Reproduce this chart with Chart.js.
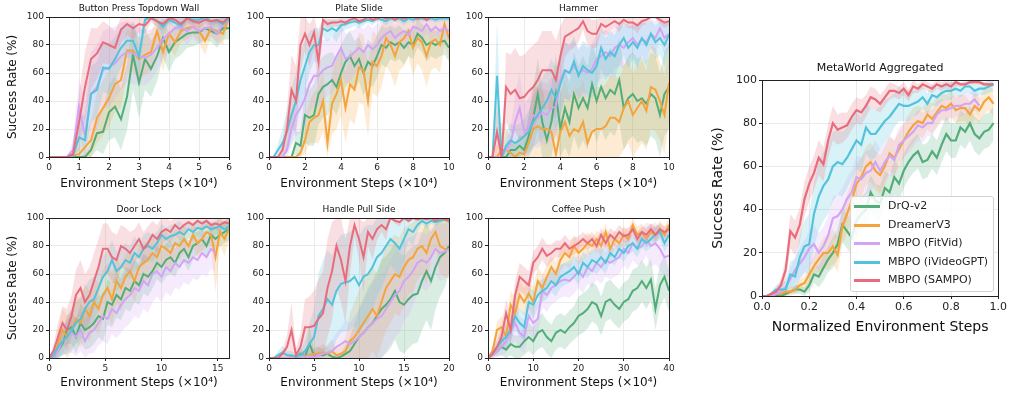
<!DOCTYPE html>
<html>
<head>
<meta charset="utf-8">
<script src="https://cdn.jsdelivr.net/npm/chart.js@4.4.1/dist/chart.umd.min.js"></script>
<style>
  body { margin: 0; background: #fff; }
  #wrap { position: relative; width: 1010px; height: 394px; overflow: hidden; }
  #wrap canvas { position: absolute; }
  #legend { position: absolute; left: 850px; top: 196px; width: 142px; height: 94px;
            border: 1px solid #d2d2d2; border-radius: 3px; background: rgba(255,255,255,0.85);
            font: 11px "DejaVu Sans", sans-serif; color: #222; }
  #legend .row { position: absolute; left: 0; height: 16px; line-height: 16px; white-space: nowrap; }
  #legend .sw { position: absolute; left: 3px; top: 7px; width: 26px; height: 3px; }
  #legend .tx { position: absolute; left: 37px; top: 0; }
</style>
</head>
<body>
<div id="wrap"><div id="legend"></div></div>
<script>
// series order: DrQ-v2, DreamerV3, MBPO (FitVid), MBPO (iVideoGPT), MBPO (SAMPO)
const seriesNames = ['DrQ-v2', 'DreamerV3', 'MBPO (FitVid)', 'MBPO (iVideoGPT)', 'MBPO (SAMPO)'];
const seriesColors = ['#52ad79', '#f5a33c', '#d2a4f6', '#53c3dc', '#e86c7c'];
const yTicks = [0, 20, 40, 60, 80, 100];

// --- Button Press Topdown Wall (x: 0..6, every 0.2) ---
const buttonMean = [
  [0,0,0,0,0,0,0,5,17,18,32,36,27,43,73,53,70,63,72,85,75,82,85,88,89,89,92,90,88,92,92],
  [0,0,0,0,1,2,7,12,28,35,42,52,55,76,76,70,73,75,90,75,88,82,90,92,93,90,83,92,90,88,100],
  [0,0,0,0,5,36,15,45,50,62,64,67,72,75,74,72,71,73,78,84,88,92,93,90,93,90,92,93,88,95,98],
  [0,0,0,0,1,14,12,45,48,64,63,70,78,83,83,72,98,100,97,93,98,96,94,99,98,98,100,97,97,95,99],
  [0,0,0,0,2,25,50,70,74,82,80,78,91,95,92,95,94,99,97,95,99,98,95,99,97,96,98,97,98,96,100]
];
const buttonSpread = [
  [0,0,0,0,0,0,2,6,12,16,20,22,22,24,25,25,22,20,18,14,14,12,12,10,10,8,8,8,10,8,8],
  [0,0,0,0,2,5,10,14,18,20,20,20,20,15,15,15,14,14,10,14,10,10,8,8,6,8,10,6,8,8,3],
  [0,0,0,0,8,20,25,30,30,28,28,26,24,22,22,20,20,18,16,14,12,10,8,10,8,10,8,6,8,5,3],
  [0,0,0,0,3,15,18,20,20,18,18,16,14,12,12,14,4,2,4,6,3,4,5,3,3,3,2,4,4,5,2],
  [0,0,0,0,3,20,25,22,18,15,14,12,10,8,8,6,6,3,4,5,3,3,5,3,4,4,3,3,3,4,2]
];

// --- Plate Slide (x: 0..10, every 0.25) ---
const plateMean = [
  [0,0,0,0,0,0,10,8,30,28,30,45,50,52,55,50,60,68,72,65,70,60,68,65,72,80,78,82,80,82,78,82,80,88,85,80,82,80,82,83,78],
  [0,0,0,0,0,0,0,3,12,25,28,30,40,10,38,45,55,35,52,48,64,62,40,68,65,72,85,80,72,82,85,90,78,85,82,72,82,84,80,95,85],
  [0,0,0,0,5,20,30,35,42,52,58,58,62,64,65,72,78,70,72,75,78,75,80,77,80,85,88,90,85,88,90,87,93,92,90,95,90,93,90,92,90],
  [0,0,5,10,18,30,40,55,65,75,80,80,92,90,92,90,94,95,96,97,96,97,98,97,99,98,97,99,98,99,97,99,98,99,99,98,99,98,99,99,99],
  [0,0,0,5,20,48,40,80,88,80,89,68,98,95,96,96,97,96,98,99,97,98,100,98,99,100,99,100,98,100,99,100,100,99,100,98,100,100,100,100,100]
];
const plateSpread = [
  [0,0,0,0,0,0,8,10,20,20,22,22,22,22,20,20,20,18,18,18,16,16,16,15,15,14,14,12,12,12,12,10,10,10,10,12,10,10,10,10,10],
  [0,0,0,0,0,0,0,3,10,15,18,20,22,15,22,25,25,25,25,25,25,25,25,22,22,22,20,20,22,20,20,18,20,18,20,22,20,20,20,15,15],
  [0,0,0,0,5,12,15,18,20,20,22,22,22,20,20,20,18,18,18,16,16,16,15,15,15,12,12,10,12,10,10,10,8,8,8,6,8,6,8,6,8],
  [0,0,5,10,15,20,20,20,18,15,12,12,6,8,6,8,5,4,4,3,4,3,2,3,2,2,3,2,2,2,3,2,2,2,2,2,2,2,2,2,2],
  [0,0,0,5,15,25,25,20,12,15,12,20,3,4,3,3,3,3,2,2,3,2,1,2,2,1,2,1,2,1,2,1,1,2,1,2,1,1,1,1,1]
];

// --- Hammer (x: 0..10, every 0.25) ---
const hammerMean = [
  [0,0,0,0,0,5,5,8,5,15,28,45,25,12,25,45,20,35,25,45,35,42,35,52,40,50,42,48,45,55,35,42,45,40,42,38,45,42,30,45,50],
  [0,0,0,5,5,3,0,3,2,10,20,22,20,20,18,2,18,25,15,20,18,25,10,18,20,20,22,28,28,25,35,40,30,35,40,33,50,48,40,30,53],
  [0,0,0,0,5,10,25,35,18,22,30,28,32,30,35,36,55,62,60,65,60,62,60,63,70,72,75,72,78,80,78,82,85,80,84,82,88,85,92,85,88],
  [0,0,58,0,8,12,10,12,15,18,25,30,35,40,48,42,52,62,60,68,58,65,62,60,65,78,70,75,72,80,85,78,82,78,85,80,88,82,85,80,87],
  [0,0,18,0,50,45,48,42,43,47,50,55,62,62,62,55,72,86,88,90,92,97,90,88,88,95,93,95,97,95,98,96,96,94,97,98,100,100,98,96,97]
];
const hammerSpread = [
  [0,0,0,0,0,5,5,8,8,15,22,25,25,20,25,28,25,28,28,30,30,30,30,30,30,30,30,30,30,30,30,30,30,30,30,30,30,30,30,30,30],
  [0,0,10,20,15,12,8,12,10,20,28,28,28,28,28,20,28,30,28,30,30,30,28,30,30,30,30,30,30,30,30,30,30,30,30,28,30,30,28,28,28],
  [0,0,0,0,5,10,20,25,20,20,22,22,22,22,22,22,22,20,20,18,18,18,18,18,18,16,16,16,15,15,15,14,12,15,12,14,10,12,8,12,10],
  [0,0,40,5,10,12,12,12,12,15,18,20,22,22,22,22,22,20,20,18,18,18,18,18,18,15,15,15,15,15,12,15,12,15,12,15,10,12,12,15,10],
  [0,0,20,5,25,28,30,30,30,30,30,28,28,28,28,28,22,15,12,12,10,6,10,10,10,6,6,6,4,6,3,4,4,6,3,3,1,1,3,4,3]
];

// --- Door Lock (x: 0..16, every 0.4) ---
const doorMean = [
  [0,0,5,10,20,22,15,25,20,22,25,30,28,40,38,45,42,50,48,55,52,60,58,62,68,65,70,72,68,75,78,72,80,82,85,80,88,85,88,90,92],
  [0,0,10,20,15,20,28,25,35,30,40,35,45,50,42,55,50,58,62,55,65,68,70,75,72,80,78,75,82,80,85,80,88,82,85,90,88,72,90,85,92],
  [0,0,5,12,15,18,15,20,12,18,20,25,30,28,35,32,38,42,45,50,48,55,52,60,62,58,65,62,68,65,70,68,72,70,75,72,78,75,null,null,null],
  [0,2,8,12,15,20,25,28,35,40,42,50,58,62,70,62,65,70,68,75,72,78,80,78,82,88,85,87,88,90,88,92,90,93,92,94,92,93,94,92,94],
  [0,5,15,25,20,30,45,50,40,45,55,65,78,78,72,70,80,78,75,80,85,78,82,88,85,90,92,90,95,92,95,97,95,98,96,98,95,96,95,97,96]
];
const doorSpread = [
  [0,0,5,8,10,12,12,14,14,15,15,15,16,16,16,16,15,15,15,15,14,14,14,12,12,12,12,12,10,10,10,10,10,8,8,8,8,8,8,8,8],
  [0,0,10,15,15,16,16,18,18,18,18,18,18,18,18,16,16,16,15,15,15,14,14,12,12,12,12,12,10,10,10,10,8,10,10,8,8,25,10,12,8],
  [0,0,5,10,12,14,14,15,15,15,16,16,18,18,18,18,20,20,20,20,20,20,20,20,18,18,18,18,18,16,16,16,15,15,15,14,14,14,null,null,null],
  [0,3,8,10,12,14,15,15,16,16,16,15,15,15,14,14,14,12,12,12,10,10,10,10,8,8,8,8,8,8,6,6,6,6,6,5,5,5,5,5,5],
  [0,5,10,12,15,15,18,20,20,20,20,20,18,18,18,18,15,15,15,12,12,12,12,10,10,10,8,8,8,8,6,5,6,4,5,3,5,4,5,3,4]
];

// --- Handle Pull Side (x: 0..20, every 0.5) ---
const handleMean = [
  [0,0,0,0,0,0,0,3,1,10,2,3,2,3,1,0,1,3,5,10,15,18,22,25,30,35,38,42,48,40,38,42,45,46,55,62,55,65,72,75,80],
  [0,0,0,0,0,1,1,2,1,2,3,3,4,3,5,2,3,5,12,15,20,25,30,35,30,40,50,55,60,58,65,70,72,78,80,75,85,90,80,78,77],
  [0,0,0,0,0,0,1,1,1,1,1,2,3,4,5,8,10,12,10,12,15,18,22,25,28,30,35,40,45,48,55,58,62,68,70,68,72,78,75,76,78],
  [0,0,2,4,2,2,1,2,5,10,15,30,35,42,38,48,53,54,55,58,52,58,60,65,72,75,80,85,82,78,85,92,90,95,98,96,98,97,98,99,98],
  [0,0,0,3,8,20,2,8,22,22,23,28,32,50,62,80,70,55,80,95,85,72,90,85,92,95,92,100,98,97,100,98,100,99,100,99,100,98,100,99,98]
];
const handleSpread = [
  [0,0,0,0,0,0,0,5,2,12,4,5,4,5,3,2,3,6,10,15,20,25,28,30,32,35,35,35,35,35,35,35,35,35,35,35,35,30,28,25,20],
  [0,0,0,0,0,1,1,3,2,3,5,5,6,5,8,5,6,10,20,25,28,30,30,30,30,30,30,30,28,28,28,25,25,22,20,22,15,10,20,20,20],
  [0,0,0,0,0,0,1,2,2,2,2,4,5,6,8,10,12,15,15,18,20,22,25,28,30,30,30,30,30,30,28,28,25,22,20,20,20,18,20,20,18],
  [0,0,3,5,3,3,2,3,8,15,20,30,35,35,35,35,35,35,35,35,35,35,35,30,28,25,22,18,20,20,15,8,10,5,2,4,2,3,2,1,2],
  [0,0,0,3,8,20,5,10,20,22,25,28,30,35,35,30,30,30,20,8,15,25,10,15,8,5,8,1,2,3,1,2,1,1,1,1,1,2,1,1,2]
];

// --- Coffee Push (x: 0..40, every 1) ---
const coffeeMean = [
  [0,3,5,8,6,10,8,8,12,15,12,18,20,15,12,18,20,18,22,25,30,32,35,40,38,30,40,42,38,35,40,42,48,50,55,50,56,35,52,58,48],
  [0,5,20,22,15,38,32,45,40,46,40,55,50,58,65,60,70,75,72,80,75,78,82,80,85,80,90,78,85,82,88,85,95,88,90,85,90,88,92,88,95],
  [0,2,5,8,12,18,25,18,15,30,25,28,48,45,50,52,55,56,55,58,62,58,65,62,68,65,70,68,70,72,78,75,82,78,80,85,80,82,78,72,73],
  [0,3,8,12,15,20,30,25,22,40,38,45,48,50,55,52,58,60,62,65,60,68,65,70,68,72,68,75,72,78,75,80,82,78,85,82,85,88,90,82,88],
  [0,3,8,15,32,20,45,58,55,52,68,72,78,73,75,78,78,82,78,80,82,85,82,85,80,88,82,88,85,90,87,88,92,85,90,88,92,88,92,90,92]
];
const coffeeSpread = [
  [0,2,4,6,6,8,8,8,10,10,10,12,12,12,12,12,12,12,12,12,14,14,14,14,14,14,14,14,14,14,14,14,15,15,15,15,15,15,15,15,15],
  [0,4,6,8,8,10,10,10,10,10,10,10,10,8,8,8,8,8,8,8,8,8,8,6,6,8,6,8,6,6,6,6,5,6,6,6,6,6,6,6,5],
  [0,2,4,6,8,10,12,12,12,12,12,12,12,12,12,12,12,12,12,12,12,12,12,12,12,12,12,12,12,12,12,12,12,12,12,12,15,15,15,15,15],
  [0,2,5,6,8,8,10,10,10,10,10,10,8,8,8,8,8,8,8,8,8,8,8,8,8,8,8,6,6,6,6,6,6,6,6,6,6,6,5,6,6],
  [0,3,5,8,10,10,10,10,10,10,8,8,8,8,6,6,6,6,6,6,5,5,5,5,5,5,5,5,5,5,5,5,4,5,4,5,4,5,4,4,4]
];

// --- MetaWorld Aggregated (x: 0..0.98, every 0.02) ---
const aggMean = [
  [0,0,0,0,0,1,2,3,3,2,5,10,9,13,17,20,24,33,30,27,35,38,40,48,44,43,50,48,55,52,58,62,65,67,62,63,67,64,70,75,72,72,78,76,80,75,73,76,77,80],
  [0,0,0,1,1,2,2,3,5,6,10,14,17,20,20,23,19,32,38,44,52,55,60,62,58,56,60,66,64,68,72,76,79,81,80,84,82,85,88,87,89,86,87,87,84,88,86,90,92,89],
  [0,0,0,1,2,4,8,12,15,18,22,24,20,23,28,36,37,40,45,48,55,54,57,58,62,58,62,65,63,70,72,74,76,79,78,80,80,84,86,86,87,88,88,89,89,91,88,null,null,null],
  [0,0,1,3,3,3,10,9,18,23,24,38,46,51,54,60,62,61,64,68,72,70,78,75,75,78,81,83,86,89,88,88,89,90,92,89,93,92,94,95,95,96,95,97,97,95,96,96,97,98],
  [0,0,1,2,5,12,30,27,33,45,52,57,64,61,72,80,77,78,79,83,86,85,88,92,91,89,92,95,95,94,96,93,97,96,98,97,96,98,97,98,97,99,98,98,99,99,99,98,98,98]
];
const aggSpread = [
  [0,0,0,0,0,1,1,2,2,2,3,4,5,6,6,7,7,8,8,8,8,8,8,8,8,8,8,8,8,8,8,8,8,8,8,8,8,8,8,8,8,8,8,8,8,8,8,8,8,8],
  [0,0,0,1,1,2,2,2,3,3,4,5,6,7,8,8,8,8,9,9,9,9,9,9,9,9,9,8,8,8,8,8,8,7,7,7,7,7,6,6,6,6,6,6,6,6,6,6,6,6],
  [0,0,0,1,2,3,5,6,7,8,8,9,9,9,9,10,10,10,10,10,10,10,10,10,10,10,9,9,9,8,8,8,7,7,7,6,6,6,5,5,5,5,5,5,5,5,5,null,null,null],
  [0,0,1,2,3,4,6,8,10,12,14,15,16,16,16,16,15,15,14,14,13,13,12,12,11,10,10,9,8,8,7,7,6,6,5,5,5,4,4,4,4,3,3,3,3,3,3,3,3,3],
  [0,0,1,2,3,5,8,8,8,8,8,8,8,8,8,8,7,7,6,6,6,6,5,5,5,4,4,4,3,3,3,3,3,2,2,2,2,2,2,2,2,2,1,1,1,1,1,1,1,1]
];

const stepsTitle = 'Environment Steps (\u00d710\u2074)';
const panels = [
  { title: 'Button Press Topdown Wall', mean: buttonMean, spread: buttonSpread, step: 0.2, xMax: 6, xTick: 1,
    area: [49, 17, 229, 157], yW: 49, xH: 38, yTitle: true },
  { title: 'Plate Slide', mean: plateMean, spread: plateSpread, step: 0.25, xMax: 10, xTick: 2,
    area: [269, 17, 449, 157], yW: 35, xH: 38 },
  { title: 'Hammer', mean: hammerMean, spread: hammerSpread, step: 0.25, xMax: 10, xTick: 2,
    area: [488, 17, 669, 157], yW: 35, xH: 38 },
  { title: 'Door Lock', mean: doorMean, spread: doorSpread, step: 0.4, xMax: 16, xTick: 5,
    area: [49, 218, 229, 358], yW: 49, xH: 36, yTitle: true },
  { title: 'Handle Pull Side', mean: handleMean, spread: handleSpread, step: 0.5, xMax: 20, xTick: 5,
    area: [269, 218, 449, 358], yW: 35, xH: 36 },
  { title: 'Coffee Push', mean: coffeeMean, spread: coffeeSpread, step: 1, xMax: 40, xTick: 10,
    area: [488, 218, 669, 358], yW: 35, xH: 36 },
  { title: 'MetaWorld Aggregated', mean: aggMean, spread: aggSpread, step: 0.02, xMax: 1, xTick: 0.2,
    area: [762, 80, 999, 296], yW: 57, xH: 44, yTitle: true, big: true, xLabel: 'Normalized Environment Steps' }
];

function rgba(hex, a) {
  const n = parseInt(hex.slice(1), 16);
  return 'rgba(' + (n >> 16) + ',' + ((n >> 8) & 255) + ',' + (n & 255) + ',' + a + ')';
}

// full box around the plot area like matplotlib spines, plus a title centred on the plot
const frame = {
  id: 'frame',
  afterDraw(chart, args, opts) {
    const a = chart.chartArea, c = chart.ctx;
    c.save();
    c.strokeStyle = '#222';
    c.lineWidth = 1;
    c.strokeRect(Math.round(a.left) + 0.5, Math.round(a.top) + 0.5,
                 Math.round(a.right - a.left), Math.round(a.bottom - a.top));
    c.fillStyle = '#111';
    c.font = opts.size + 'px "DejaVu Sans"';
    c.textAlign = 'center';
    c.textBaseline = 'middle';
    c.fillText(opts.text, (a.left + a.right) / 2, a.top - opts.gap);
    c.restore();
  }
};

const wrap = document.getElementById('wrap');
const FONT = 'DejaVu Sans';

panels.forEach(p => {
  const big = !!p.big;
  const tFont = big ? 11 : 9;
  const titleH = big ? 22 : 17;
  const padR = 10;
  const [l, t, r, b] = p.area;
  const cv = document.createElement('canvas');
  const w = p.yW + (r - l) + padR;
  const h = titleH + (b - t) + p.xH;
  cv.width = w; cv.height = h;
  cv.style.left = (l - p.yW) + 'px';
  cv.style.top = (t - titleH) + 'px';
  cv.style.width = w + 'px'; cv.style.height = h + 'px';
  wrap.insertBefore(cv, document.getElementById('legend'));

  const datasets = [];
  p.mean.forEach((m, k) => {
    const sp = p.spread[k];
    const pts = arr => arr.map((v, i) => ({ x: i * p.step, y: v }));
    const lo = m.map((v, i) => v === null ? null : Math.max(0, v - sp[i]));
    const hi = m.map((v, i) => v === null ? null : Math.min(100, v + sp[i]));
    datasets.push({ data: pts(lo), borderWidth: 0, borderColor: 'transparent', pointRadius: 0,
                    fill: false, order: 30 - k });
    datasets.push({ data: pts(hi), borderWidth: 0, borderColor: 'transparent', pointRadius: 0,
                    fill: '-1', backgroundColor: rgba(seriesColors[k], 0.22), order: 30 - k });
    datasets.push({ label: seriesNames[k], data: pts(m), borderColor: seriesColors[k],
                    borderWidth: big ? 2.2 : 2, pointRadius: 0, fill: false, order: 10 - k });
  });

  new Chart(cv.getContext('2d'), {
    type: 'line',
    data: { datasets },
    options: {
      responsive: false,
      animation: false,
      events: [],
      layout: { padding: { left: 0, right: padR, top: titleH, bottom: 0 } },
      plugins: {
        legend: { display: false },
        tooltip: { enabled: false },
        frame: { text: p.title, size: tFont, gap: big ? 12 : 8.5 }
      },
      scales: {
        x: {
          type: 'linear', min: 0, max: p.xMax,
          ticks: { stepSize: p.xTick, includeBounds: false, autoSkip: false, maxRotation: 0,
                   padding: 2, color: '#222', font: { family: FONT, size: big ? 11 : 9 },
                   callback: v => big ? v.toFixed(1) : v },
          grid: { color: '#ebebeb', tickColor: '#222', tickLength: 3 },
          border: { color: '#222' },
          title: { display: true, text: p.xLabel || stepsTitle, color: '#111',
                   font: { family: FONT, size: big ? 14 : 12 }, padding: { top: 0, bottom: 4 } },
          afterFit: s => { s.height = p.xH; }
        },
        y: {
          min: 0, max: 100,
          afterBuildTicks: s => { s.ticks = yTicks.map(v => ({ value: v })); },
          ticks: { padding: 2, color: '#222', font: { family: FONT, size: big ? 11 : 9 } },
          grid: { color: '#ebebeb', tickColor: '#222', tickLength: 3 },
          border: { color: '#222' },
          title: { display: !!p.yTitle, text: 'Success Rate (%)', color: '#111',
                   font: { family: FONT, size: big ? 14 : 12 }, padding: { top: big ? 5 : 6, bottom: 0 } },
          afterFit: s => { s.width = p.yW; }
        }
      }
    },
    plugins: [frame]
  });
});

// legend of the aggregated panel
const legend = document.getElementById('legend');
seriesNames.forEach((name, k) => {
  const row = document.createElement('div');
  row.className = 'row';
  row.style.top = (1 + k * 18.6) + 'px';
  row.style.width = '100%';
  row.innerHTML = '<span class="sw" style="background:' + seriesColors[k] + '"></span><span class="tx">' + name + '</span>';
  legend.appendChild(row);
});
</script>
</body>
</html>
